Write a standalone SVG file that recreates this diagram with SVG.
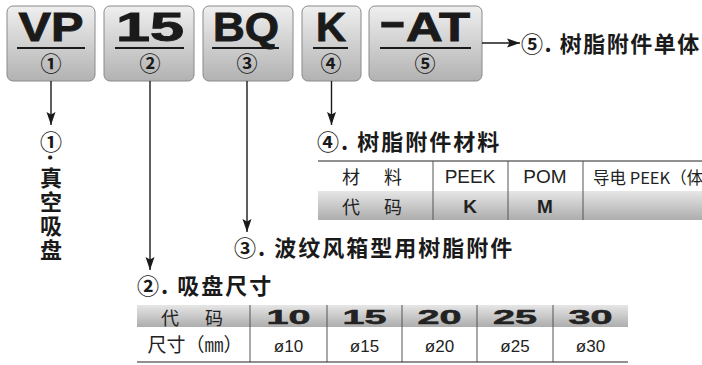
<svg xmlns="http://www.w3.org/2000/svg" width="702" height="365" viewBox="0 0 702 365">
<defs>
<linearGradient id="boxg" x1="0" y1="0" x2="0" y2="1">
<stop offset="0" stop-color="#efefef"/><stop offset="1" stop-color="#b2b2b2"/>
</linearGradient>
<linearGradient id="rowg" x1="0" y1="0" x2="0" y2="1">
<stop offset="0" stop-color="#e6e6e6"/><stop offset="1" stop-color="#adadad"/>
</linearGradient>
<marker id="ah" markerUnits="userSpaceOnUse" markerWidth="14" markerHeight="10" refX="13" refY="5" orient="auto">
<path d="M0,0.5 L13,5 L0,9.5 L2.5,5 z" fill="#1a1a1a"/>
</marker>
</defs>
<style>
.box{fill:url(#boxg);stroke:#8a8a8a;stroke-width:1}
.code{font-family:"Liberation Sans",Arial,sans-serif;font-weight:bold;font-size:40px;fill:#1a1a1a;stroke:#1a1a1a;stroke-width:0.9;text-anchor:middle}
.ul{stroke:#1a1a1a;stroke-width:2}
.cn{font-family:"Noto Sans CJK SC",sans-serif;font-weight:bold;font-size:21px;fill:#1a1a1a;text-anchor:middle}
.conn line{stroke:#1a1a1a;stroke-width:1.4;fill:none;marker-end:url(#ah)}
.lbl{font-family:"Noto Sans CJK SC",sans-serif;font-weight:bold;font-size:22px;letter-spacing:2px;fill:#1a1a1a}
.vl{font-family:"Noto Sans CJK SC",sans-serif;font-weight:bold;font-size:22px;letter-spacing:2px;fill:#1a1a1a;writing-mode:vertical-rl}
.tc{font-family:"Noto Sans CJK SC",sans-serif;font-size:18px;fill:#222;text-anchor:middle}
.tl{font-family:"Liberation Sans",Arial,sans-serif;font-size:19px;fill:#222;text-anchor:middle}
.tb{font-family:"Liberation Sans",Arial,sans-serif;font-weight:bold;font-size:19px;fill:#222;text-anchor:middle}
.num{font-family:"Liberation Sans",Arial,sans-serif;font-weight:bold;font-size:20px;fill:#222;stroke:#222;stroke-width:0.5;text-anchor:middle}
.dia{font-family:"Liberation Sans",Arial,sans-serif;font-size:17px;fill:#222;text-anchor:middle}
.hl{stroke:#222;stroke-width:1.2}
.vd{stroke:#555;stroke-width:1}
</style>

<g id="node-vp">
<rect class="box" x="7" y="6" width="88" height="75" rx="6"/>
<text class="code" x="51" y="41" textLength="65" lengthAdjust="spacingAndGlyphs">VP</text>
<line class="ul" x1="17" y1="48" x2="85" y2="48"/>
<text class="cn" x="51" y="71">①</text>
</g>
<g id="node-15">
<rect class="box" x="104" y="6" width="90" height="75" rx="6"/>
<text class="code" x="150" y="41" textLength="68" lengthAdjust="spacingAndGlyphs">15</text>
<line class="ul" x1="115" y1="48" x2="184" y2="48"/>
<text class="cn" x="150" y="71">②</text>
</g>
<g id="node-bq">
<rect class="box" x="203" y="6" width="90" height="75" rx="6"/>
<text class="code" x="246" y="41" textLength="66" lengthAdjust="spacingAndGlyphs">BQ</text>
<line class="ul" x1="212" y1="48" x2="279" y2="48"/>
<text class="cn" x="247" y="71">③</text>
</g>
<g id="node-k">
<rect class="box" x="302" y="6" width="59" height="75" rx="6"/>
<text class="code" x="331" y="41" textLength="30" lengthAdjust="spacingAndGlyphs">K</text>
<line class="ul" x1="313" y1="48" x2="348" y2="48"/>
<text class="cn" x="331" y="71">④</text>
</g>
<g id="node-at">
<rect class="box" x="369" y="6" width="113" height="75" rx="6"/>
<text class="code" x="379" y="41" style="text-anchor:start"><tspan dy="-6" textLength="27" lengthAdjust="spacingAndGlyphs">-</tspan><tspan dy="6" textLength="64" lengthAdjust="spacingAndGlyphs">AT</tspan></text>
<line class="ul" x1="380" y1="48" x2="471" y2="48"/>
<text class="cn" x="425" y="71">⑤</text>
</g>

<g id="connectors" class="conn">
<line x1="51" y1="81" x2="51" y2="125"/>
<line x1="150" y1="81" x2="150" y2="270"/>
<line x1="247" y1="81" x2="247" y2="232"/>
<line x1="331.5" y1="81" x2="331.5" y2="125"/>
<line x1="482" y1="43" x2="520" y2="43"/>
</g>

<g id="label-5">
<text class="lbl" x="521" y="52" style="letter-spacing:1.5px">⑤. 树脂附件单体</text>
</g>

<g id="label-1">
<text class="vl"><tspan x="51" y="131">①</tspan><tspan x="58" y="154">.</tspan><tspan x="51" y="167">真空吸盘</tspan></text>
</g>

<g id="label-4">
<text class="lbl" x="317" y="150">④. 树脂附件材料</text>
<line class="hl" x1="318" y1="161" x2="702" y2="161"/>
<rect x="318" y="191" width="384" height="29" fill="url(#rowg)"/>
<line class="vd" x1="433" y1="161" x2="433" y2="220"/>
<line class="vd" x1="508" y1="161" x2="508" y2="220"/>
<line class="vd" x1="583" y1="161" x2="583" y2="220"/>
<text class="tc" y="184"><tspan x="351">材</tspan><tspan x="393">料</tspan></text>
<text class="tl" x="470" y="183">PEEK</text>
<text class="tl" x="545" y="183">POM</text>
<text class="tc" x="593" y="184" style="text-anchor:start;font-size:16.5px">导电 PEEK（体</text>
<text class="tc" y="214"><tspan x="351">代</tspan><tspan x="393">码</tspan></text>
<text class="tb" x="470" y="213">K</text>
<text class="tb" x="545" y="213">M</text>
</g>

<g id="label-3">
<text class="lbl" x="234" y="256">③. 波纹风箱型用树脂附件</text>
</g>

<g id="label-2">
<text class="lbl" x="137" y="294">②. 吸盘尺寸</text>
<rect x="137" y="305" width="491" height="22" fill="url(#rowg)"/>
<line class="vd" x1="250" y1="305" x2="250" y2="362"/>
<line class="vd" x1="327" y1="305" x2="327" y2="362"/>
<line class="vd" x1="402" y1="305" x2="402" y2="362"/>
<line class="vd" x1="477" y1="305" x2="477" y2="362"/>
<line class="vd" x1="553" y1="305" x2="553" y2="362"/>
<line class="hl" x1="137" y1="362" x2="628" y2="362"/>
<text class="tc" y="325"><tspan x="170">代</tspan><tspan x="214">码</tspan></text>
<text class="num" x="288.5" y="324" textLength="44" lengthAdjust="spacingAndGlyphs">10</text>
<text class="num" x="364.5" y="324" textLength="44" lengthAdjust="spacingAndGlyphs">15</text>
<text class="num" x="439.5" y="324" textLength="44" lengthAdjust="spacingAndGlyphs">20</text>
<text class="num" x="515" y="324" textLength="44" lengthAdjust="spacingAndGlyphs">25</text>
<text class="num" x="590.5" y="324" textLength="44" lengthAdjust="spacingAndGlyphs">30</text>
<text class="tc" x="195" y="352" style="font-size:19px">尺寸（㎜）</text>
<text class="dia" x="288.5" y="352">ø10</text>
<text class="dia" x="364.5" y="352">ø15</text>
<text class="dia" x="439.5" y="352">ø20</text>
<text class="dia" x="515" y="352">ø25</text>
<text class="dia" x="590.5" y="352">ø30</text>
</g>
</svg>
